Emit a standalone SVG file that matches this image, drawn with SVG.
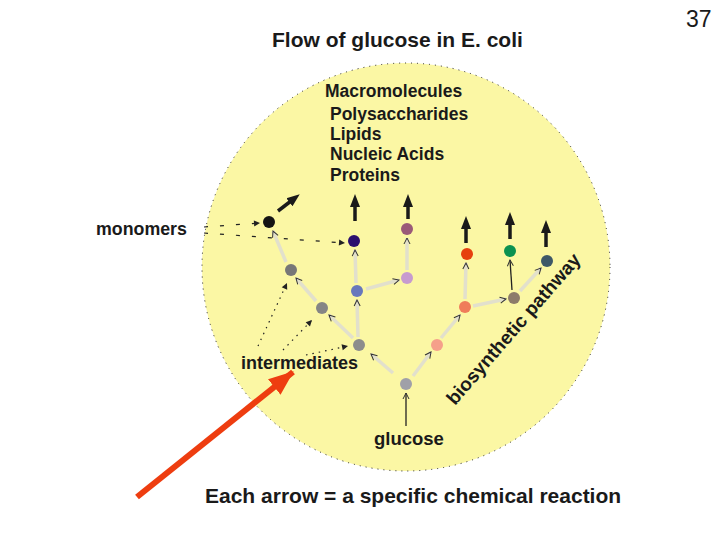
<svg xmlns="http://www.w3.org/2000/svg" width="720" height="540" viewBox="0 0 720 540">
<defs>
<style>
text{font-family:"Liberation Sans",Arial,sans-serif;font-weight:bold;fill:#1a1a1a}
.node{stroke:none}
.pw{stroke:#e2e0cc;stroke-width:3.5;fill:none;marker-end:url(#sm)}
.thin{stroke:#222;stroke-width:1.3;fill:none;marker-end:url(#sm)}
.up{stroke:#1a1a1a;stroke-width:3.5;fill:none;marker-end:url(#big)}
.dot{stroke:#222;stroke-width:1.2;stroke-dasharray:1.5 5;fill:none;marker-end:url(#dm)}
.dash{stroke:#222;stroke-width:1.2;stroke-dasharray:4 12;fill:none;marker-end:url(#dm)}
</style>
<marker id="big" markerUnits="userSpaceOnUse" markerWidth="14" markerHeight="14" viewBox="0 0 14 14" refX="2" refY="7" orient="auto"><path d="M0,2 L13,7 L0,12 z" fill="#1a1a1a"/></marker>
<marker id="sm" markerUnits="userSpaceOnUse" markerWidth="8" markerHeight="8" viewBox="0 0 8 8" refX="7" refY="4" orient="auto"><path d="M1,1 L7,4 L1,7" fill="none" stroke="#333" stroke-width="1"/></marker>
<marker id="dm" markerUnits="userSpaceOnUse" markerWidth="8" markerHeight="8" viewBox="0 0 8 8" refX="7" refY="4" orient="auto"><path d="M1,1 L7,4 L1,7 z" fill="#222"/></marker>
<marker id="red" markerUnits="userSpaceOnUse" markerWidth="26" markerHeight="24" viewBox="0 0 26 24" refX="24" refY="12" orient="auto"><path d="M0,2 L25,12 L0,22 z" fill="#ee3d10"/></marker>
</defs>
<rect width="720" height="540" fill="#ffffff"/>
<g id="cell">
<circle cx="406" cy="267" r="204" fill="#fbf7a4" stroke="#222" stroke-width="1" stroke-dasharray="1 5"/>
</g>
<g id="title"><text x="272" y="47" font-size="21">Flow of glucose in E. coli</text></g>
<g id="pagenum"><text x="686" y="27" font-size="23" style="font-weight:normal">37</text></g>
<g id="macro">
<text x="325" y="97" font-size="17.5">Macromolecules</text>
<text x="330" y="120" font-size="17.5">Polysaccharides</text>
<text x="330" y="140" font-size="17.5">Lipids</text>
<text x="330" y="160" font-size="17.5">Nucleic Acids</text>
<text x="330" y="181" font-size="17.5">Proteins</text>
</g>
<g id="labels">
<text x="96" y="235" font-size="17.8">monomers</text>
<text x="241" y="369" font-size="18">intermediates</text>
<text x="374" y="445" font-size="18.5">glucose</text>
<text x="205" y="503" font-size="21">Each arrow = a specific chemical reaction</text>
<text transform="translate(455,406) rotate(-49)" font-size="19">biosynthetic pathway</text>
</g>
<g id="connectors">
<line class="pw" x1="393" y1="373" x2="371" y2="354"/>
<line class="pw" x1="413" y1="376" x2="431" y2="352"/>
<line class="pw" x1="353" y1="338" x2="329" y2="315"/>
<line class="pw" x1="358" y1="337" x2="357" y2="300"/>
<line class="pw" x1="316" y1="301" x2="296" y2="278"/>
<line class="pw" x1="286" y1="262" x2="273" y2="231"/>
<line class="pw" x1="356" y1="283" x2="355" y2="250"/>
<line class="pw" x1="366" y1="289" x2="399" y2="280"/>
<line class="pw" x1="407" y1="270" x2="407" y2="238"/>
<line class="pw" x1="441" y1="338" x2="460" y2="315"/>
<line class="pw" x1="465" y1="299" x2="466" y2="263"/>
<line class="pw" x1="473" y1="306" x2="506" y2="299"/>
<line class="pw" x1="520" y1="291" x2="541" y2="268"/>
<line class="thin" x1="512" y1="290" x2="510" y2="260"/>
<line class="thin" x1="406" y1="426" x2="406" y2="393"/>
<line class="up" x1="355" y1="221" x2="355" y2="205"/>
<line class="up" x1="408" y1="219" x2="408" y2="205"/>
<line class="up" x1="466" y1="243" x2="466" y2="227"/>
<line class="up" x1="510" y1="239" x2="510" y2="223"/>
<line class="up" x1="546" y1="247" x2="546" y2="231"/>
<line class="up" x1="278" y1="211" x2="291" y2="201"/>
<line class="dash" x1="204" y1="227" x2="260" y2="223"/>
<line class="dash" x1="204" y1="233" x2="345" y2="243"/>
<line class="dot" x1="258" y1="346" x2="287" y2="283"/>
<line class="dot" x1="283" y1="350" x2="312" y2="320"/>
<line class="dot" x1="306" y1="355" x2="348" y2="346"/>
<line x1="137" y1="497" x2="293" y2="372" stroke="#ee3d10" stroke-width="6" marker-end="url(#red)"/>
</g>
<g id="n-black"><circle class="node" cx="269" cy="222" r="6" fill="#141414"/></g>
<g id="n-navy"><circle class="node" cx="354" cy="241" r="6" fill="#2b0f6e"/></g>
<g id="n-mauve"><circle class="node" cx="407" cy="229" r="6" fill="#9a5a78"/></g>
<g id="n-gray1"><circle class="node" cx="291" cy="270" r="6" fill="#777777"/></g>
<g id="n-blue"><circle class="node" cx="357" cy="291" r="6" fill="#6878bc"/></g>
<g id="n-lilac"><circle class="node" cx="407" cy="278" r="6" fill="#c79bcf"/></g>
<g id="n-gray2"><circle class="node" cx="322" cy="308" r="6" fill="#858585"/></g>
<g id="n-gray3"><circle class="node" cx="359" cy="345" r="6" fill="#8c8c8c"/></g>
<g id="n-glucose"><circle class="node" cx="406" cy="384" r="6" fill="#a0a0a8"/></g>
<g id="n-lsalmon"><circle class="node" cx="437" cy="345" r="6" fill="#f5a08a"/></g>
<g id="n-salmon"><circle class="node" cx="465" cy="307" r="6" fill="#ef7c5a"/></g>
<g id="n-red"><circle class="node" cx="467" cy="254" r="6" fill="#e6400e"/></g>
<g id="n-green"><circle class="node" cx="510" cy="251" r="6" fill="#0b9150"/></g>
<g id="n-brown"><circle class="node" cx="514" cy="298" r="6" fill="#8c7b6a"/></g>
<g id="n-slate"><circle class="node" cx="547" cy="261" r="6" fill="#3e5867"/></g>
</svg>
